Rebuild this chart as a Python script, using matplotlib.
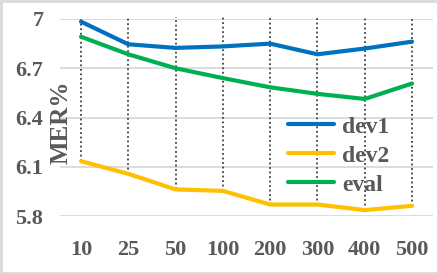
import matplotlib.pyplot as plt
from matplotlib.patches import Rectangle

# donnees
categories = ["10", "25", "50", "100", "200", "300", "400", "500"]
dev1 = [6.984, 6.846, 6.824, 6.833, 6.85, 6.785, 6.82, 6.862]
dev2 = [6.134, 6.057, 5.962, 5.953, 5.87, 5.87, 5.836, 5.862]
eval_ = [6.892, 6.785, 6.70, 6.64, 6.584, 6.544, 6.513, 6.607]
yticks = [5.8, 6.1, 6.4, 6.7, 7.0]
ytick_labels = ["5.8", "6.1", "6.4", "6.7", "7"]

plt.rcParams['font.family'] = ['Liberation Serif', 'DejaVu Serif']
txt = '#595959'

fig = plt.figure(figsize=(4.39, 2.74), dpi=100)
W, H = 439, 274
ax = fig.add_axes([60 / W, (H - 216) / H, 373 / W, 197 / H])

x = list(range(len(categories)))

# lignes verticales pointillees (de dev2 jusqu'en haut)
ax.vlines(x, dev2, 7.015, colors='#404040', linestyles=(0, (1, 1.5)), lw=1.3, zorder=2, clip_on=False)

ax.plot(x, dev1, color='#0070C0', lw=3, label='dev1', zorder=3, solid_capstyle='round')
ax.plot(x, dev2, color='#FFC000', lw=3, label='dev2', zorder=3, solid_capstyle='round')
ax.plot(x, eval_, color='#00B050', lw=3, label='eval', zorder=3, solid_capstyle='round')

ax.set_xlim(-0.444, 7.444)
ax.set_ylim(5.8, 7.0)
ax.set_yticks(yticks)
ax.set_yticklabels(ytick_labels)
ax.set_xticks(x)
ax.set_xticklabels(categories)
ax.grid(axis='y', color='#D9D9D9', lw=1.3, zorder=1)
ax.tick_params(length=0, labelsize=16, labelcolor=txt)
ax.tick_params(axis='y', pad=12)
ax.tick_params(axis='x', pad=17)
for lab in ax.get_xticklabels() + ax.get_yticklabels():
    lab.set_fontweight('bold')
for s in ax.spines.values():
    s.set_visible(False)

ax.set_ylabel("MER%", fontsize=18, fontweight='bold', color=txt)
ax.yaxis.set_label_coords(0.034, 0.475)

leg = ax.legend(loc='upper left', bbox_to_anchor=(288 / W, 1 - 116 / H), bbox_transform=fig.transFigure,
                frameon=False, fontsize=17, handlelength=1.95, handletextpad=0.35,
                labelspacing=0.32, borderpad=0, borderaxespad=0)
for t in leg.get_texts():
    t.set_color(txt)
    t.set_fontweight('bold')

# bordure du graphique
fig.patches.append(Rectangle((0.003, 0.004), 0.994, 0.992, transform=fig.transFigure,
                             fill=False, edgecolor='#D9D9D9', lw=2))

fig.savefig("out.png", dpi=100)
